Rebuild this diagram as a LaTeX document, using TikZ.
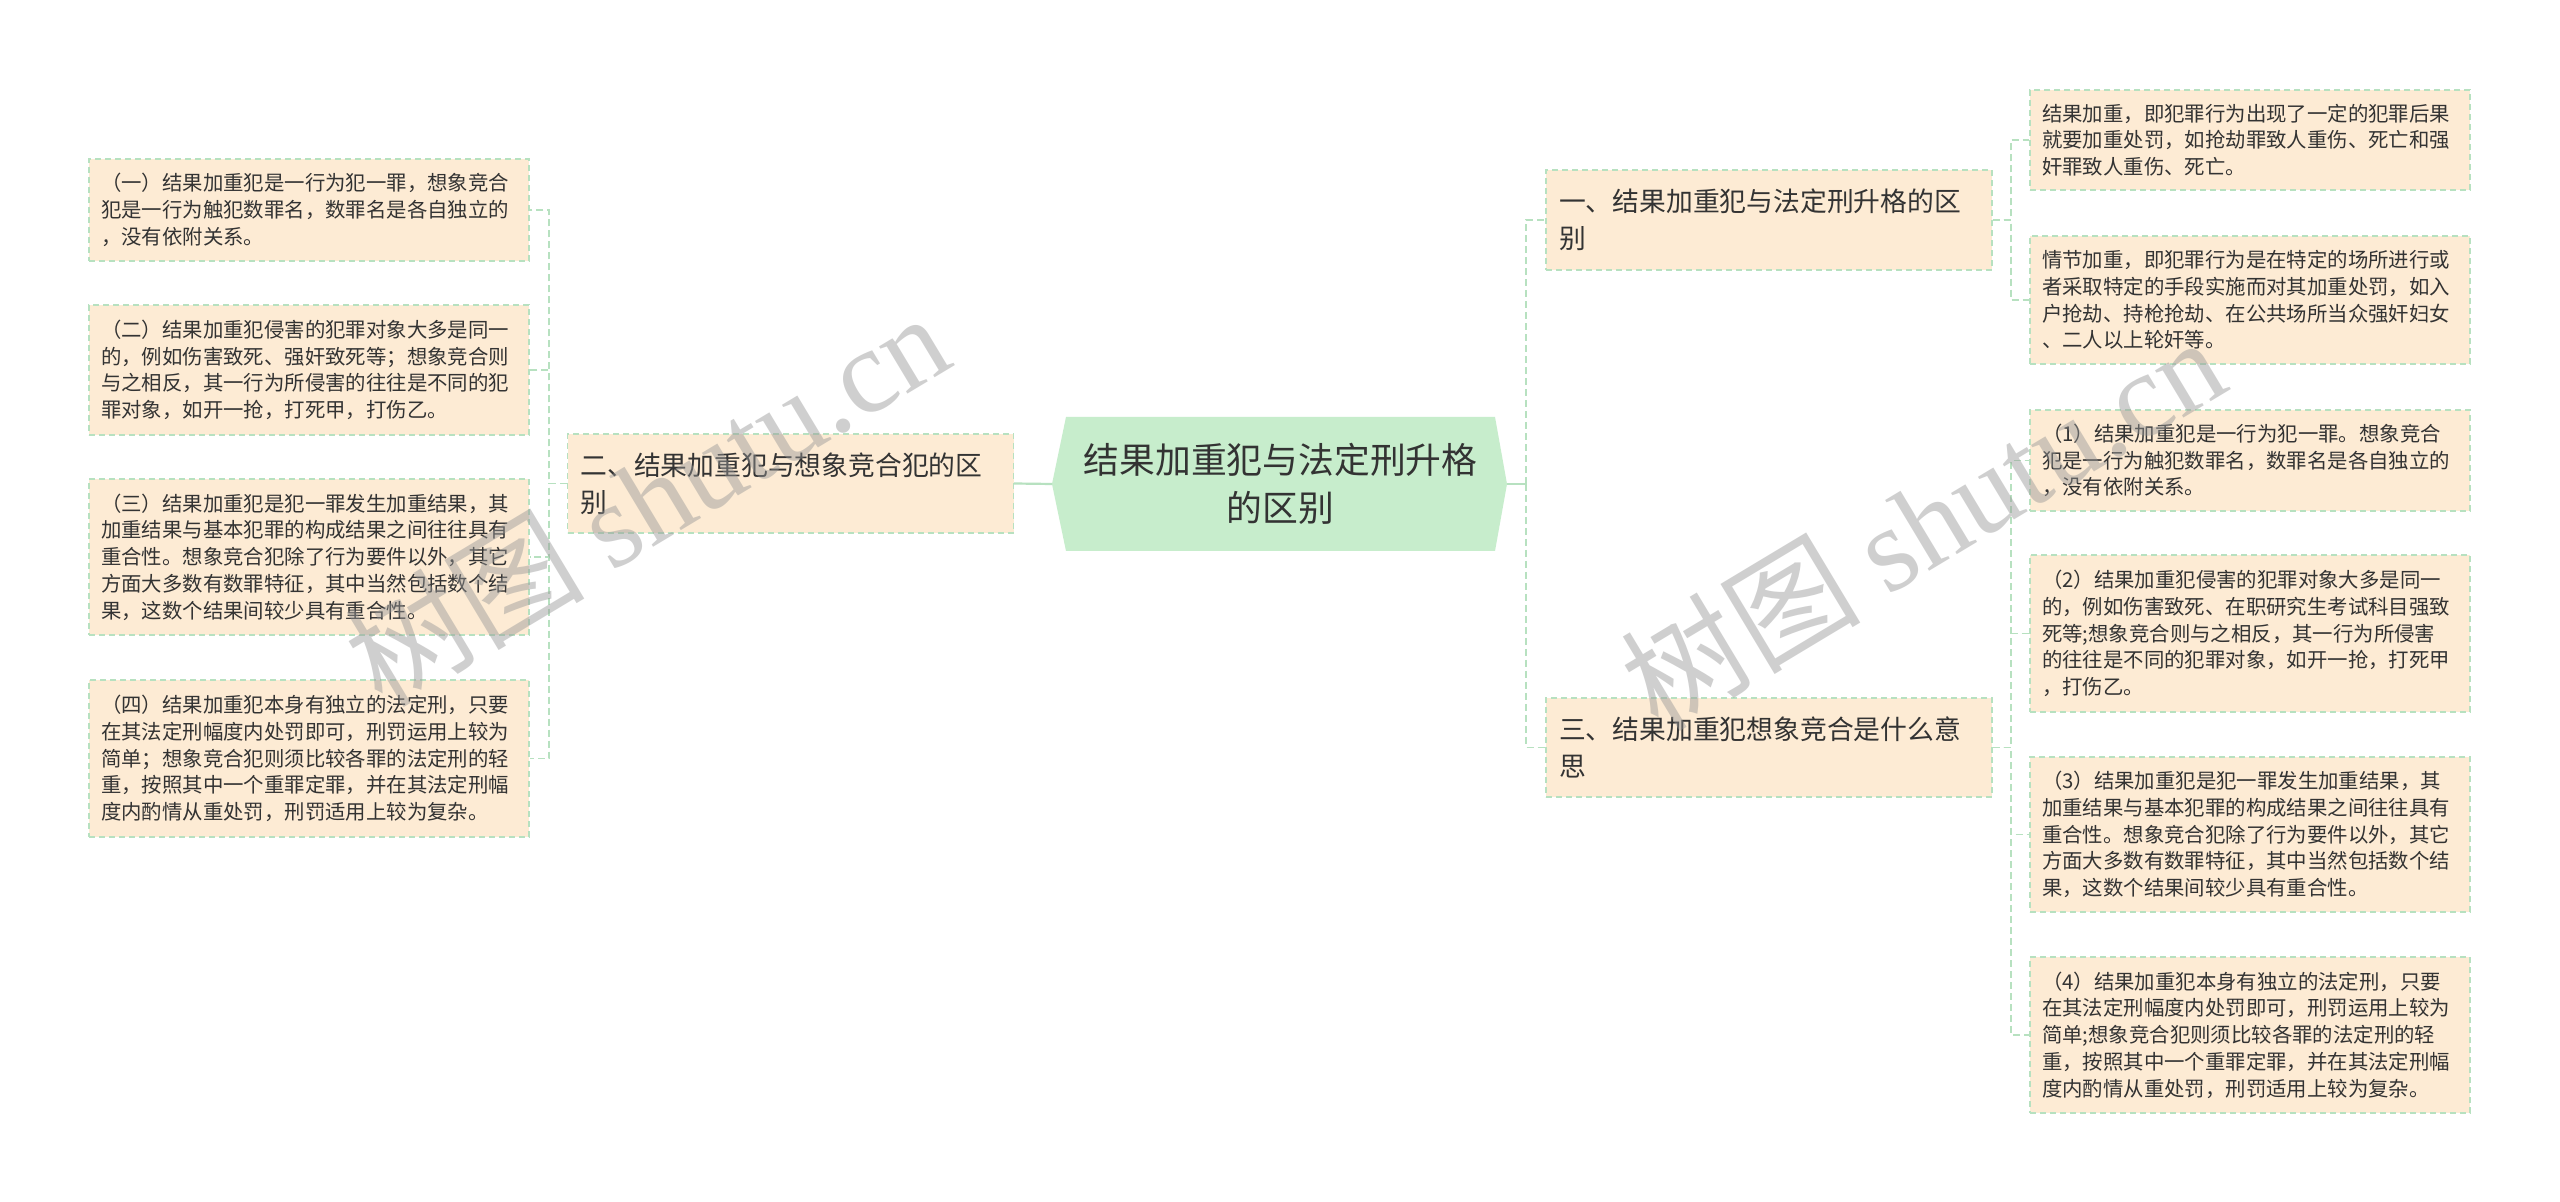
\documentclass[tikz,border=0pt]{standalone}
\usepackage{fontspec}
\setmainfont{Noto Sans CJK SC}
\newfontfamily\wmlatin{Liberation Serif}
\definecolor{peach}{RGB}{253,235,212}
\definecolor{bordergreen}{RGB}{183,225,192}
\definecolor{conngreen}{RGB}{183,225,192}
\definecolor{mainfill}{RGB}{199,237,204}
\definecolor{txt}{RGB}{51,51,51}
\definecolor{wmgray}{RGB}{150,150,150}
\tikzset{
  leafbox/.style={draw=bordergreen, dash pattern=on 3pt off 2pt, line width=0.6pt, fill=peach,
    text=txt, font=\fontsize{10.2pt}{13.35pt}\selectfont, align=left, text width=208pt,
    inner xsep=6pt, inner ysep=0pt, minimum width=220pt},
  topicbox/.style={draw=bordergreen, dash pattern=on 3pt off 2pt, line width=0.6pt, fill=peach,
    text=txt, font=\fontsize{13.4pt}{18.5pt}\selectfont, align=left, text width=210pt,
    inner xsep=6.5pt, inner ysep=0pt, minimum width=223pt, minimum height=50pt},
  maintext/.style={text=txt, font=\fontsize{17.9pt}{24pt}\selectfont, align=center,
    minimum width=214.5pt, minimum height=67pt, inner sep=0pt},
  conn/.style={draw=conngreen, line width=0.9pt, dash pattern=on 3.5pt off 2pt},
  mainconn/.style={draw=conngreen, line width=1.1pt},
  wm/.style={text=wmgray, opacity=0.45, inner sep=0pt, font=\fontsize{60pt}{64pt}\selectfont}
}
\begin{document}
\begin{tikzpicture}[x=0.5pt, y=-0.5pt]
\useasboundingbox (0,0) rectangle (2560,1202);
\fill[white] (0,0) rectangle (2560,1202);

% main node
\coordinate (mainL) at (1052,484);
\coordinate (mainR) at (1507,484);
\fill[mainfill] (1066,417) -- (1495,417) -- (mainR) -- (1495,551) -- (1066,551) -- (mainL) -- cycle;
\node[maintext] (main) at (1280.5,484) {结果加重犯与法定刑升格\\的区别};

% topics
\node[topicbox, minimum height=49.5pt] (n2) at (790.5,483.5) {二、结果加重犯与想象竞合犯的区\\别};
\node[topicbox] (n1) at (1769,220) {一、结果加重犯与法定刑升格的区\\别};
\node[topicbox, minimum height=49.5pt] (n3) at (1769,747.5) {三、结果加重犯想象竞合是什么意\\思};

% left leaves
\node[leafbox, minimum height=51pt] (L1) at (309,210) {（一）结果加重犯是一行为犯一罪，想象竞合\\犯是一行为触犯数罪名，数罪名是各自独立的\\，没有依附关系。};
\node[leafbox, minimum height=65pt] (L2) at (309,370) {（二）结果加重犯侵害的犯罪对象大多是同一\\的，例如伤害致死、强奸致死等；想象竞合则\\与之相反，其一行为所侵害的往往是不同的犯\\罪对象，如开一抢，打死甲，打伤乙。};
\node[leafbox, minimum height=78pt] (L3) at (309,557) {（三）结果加重犯是犯一罪发生加重结果，其\\加重结果与基本犯罪的构成结果之间往往具有\\重合性。想象竞合犯除了行为要件以外，其它\\方面大多数有数罪特征，其中当然包括数个结\\果，这数个结果间较少具有重合性。};
\node[leafbox, minimum height=78.5pt] (L4) at (309,758.5) {（四）结果加重犯本身有独立的法定刑，只要\\在其法定刑幅度内处罚即可，刑罚运用上较为\\简单；想象竞合犯则须比较各罪的法定刑的轻\\重，按照其中一个重罪定罪，并在其法定刑幅\\度内酌情从重处罚，刑罚适用上较为复杂。};

% right leaves
\node[leafbox, minimum height=50pt] (R1) at (2250,140) {结果加重，即犯罪行为出现了一定的犯罪后果\\就要加重处罚，如抢劫罪致人重伤、死亡和强\\奸罪致人重伤、死亡。};
\node[leafbox, minimum height=64pt] (R2) at (2250,300) {情节加重，即犯罪行为是在特定的场所进行或\\者采取特定的手段实施而对其加重处罚，如入\\户抢劫、持枪抢劫、在公共场所当众强奸妇女\\、二人以上轮奸等。};
\node[leafbox, minimum height=50.5pt] (R3) at (2250,460.5) {（1）结果加重犯是一行为犯一罪。想象竞合\\犯是一行为触犯数罪名，数罪名是各自独立的\\，没有依附关系。};
\node[leafbox, minimum height=78.5pt] (R4) at (2250,633.5) {（2）结果加重犯侵害的犯罪对象大多是同一\\的，例如伤害致死、在职研究生考试科目强致\\死等;想象竞合则与之相反，其一行为所侵害\\的往往是不同的犯罪对象，如开一抢，打死甲\\，打伤乙。};
\node[leafbox, minimum height=77.5pt] (R5) at (2250,834.5) {（3）结果加重犯是犯一罪发生加重结果，其\\加重结果与基本犯罪的构成结果之间往往具有\\重合性。想象竞合犯除了行为要件以外，其它\\方面大多数有数罪特征，其中当然包括数个结\\果，这数个结果间较少具有重合性。};
\node[leafbox, minimum height=78pt] (R6) at (2250,1035) {（4）结果加重犯本身有独立的法定刑，只要\\在其法定刑幅度内处罚即可，刑罚运用上较为\\简单;想象竞合犯则须比较各罪的法定刑的轻\\重，按照其中一个重罪定罪，并在其法定刑幅\\度内酌情从重处罚，刑罚适用上较为复杂。};

% spine points
\coordinate (sL) at (549,483.5);
\coordinate (sR) at (1526,484);
\coordinate (s1) at (2011,220);
\coordinate (s3) at (2011,747.5);

% connectors
\draw[mainconn] (mainL) -- (n2.east);
\draw[mainconn] (mainR) -- (sR);
\foreach \c in {L1,L2,L3,L4} \draw[conn] (n2.west) -- (sL) |- (\c.east);
\foreach \c in {n1,n3} \draw[conn] (sR) |- (\c.west);
\foreach \c in {R1,R2} \draw[conn] (n1.east) -- (s1) |- (\c.west);
\foreach \c in {R3,R4,R5,R6} \draw[conn] (n3.east) -- (s3) |- (\c.west);

% watermarks
\node[wm, rotate=31] (wmA) at (646,498) {树图 {\wmlatin shutu.cn}};
\node[wm, rotate=31] (wmB) at (1922,522) {树图 {\wmlatin shutu.cn}};
\end{tikzpicture}
\end{document}
